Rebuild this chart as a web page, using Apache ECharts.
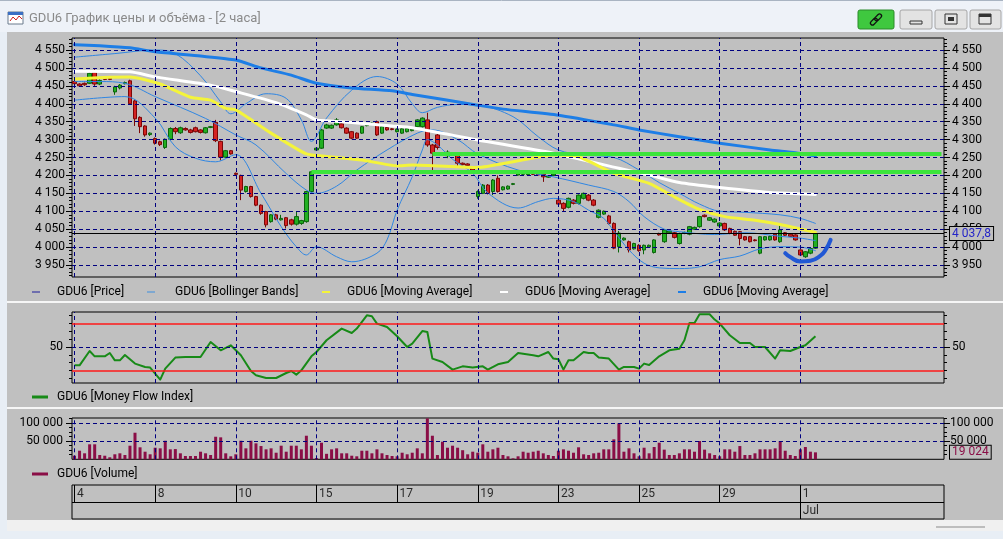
<!DOCTYPE html>
<html><head><meta charset="utf-8">
<script src="https://cdn.jsdelivr.net/npm/echarts@6/dist/echarts.min.js"></script>
<style>html,body{margin:0;padding:0;background:#e8eef5;overflow:hidden}#c{width:1003px;height:539px}</style>
</head><body><div id="c"></div><script>
// ---------- DATA ----------
const windowTitle = 'GDU6 График цены и объёма - [2 часа]';
const dayLabels = ['4','8','10','15','17','19','23','25','29','1'];
const dayStarts = [0,16,32,48,64,80,96,112,128,144];
const monthLabels = ['Jul'];
const monthStarts = [144];
const slotCount = 173;
// [open, close, low, high]
const ohlc = [
[4462,4456,4452,4465],[4455,4450,4447,4457],[4457,4453,4450,4459],[4457,4485,4455,4488],
[4487,4455,4450,4497],[4455,4465,4452,4468],[4470,4468,4466,4472],[4471,4468,4466,4473],
[4433,4447,4425,4450],[4444,4452,4440,4455],[4456,4459,4454,4462],[4464,4400,4398,4467],
[4408,4358,4338,4412],[4362,4336,4318,4365],[4338,4313,4308,4340],[4314,4318,4310,4320],
[4303,4290,4286,4306],[4294,4286,4282,4297],[4278,4301,4274,4303],[4301,4331,4298,4334],
[4331,4322,4315,4335],[4319,4333,4316,4336],[4331,4327,4325,4334],[4327,4320,4317,4330],
[4333,4322,4320,4336],[4327,4320,4317,4329],[4319,4333,4317,4335],[4334,4336,4332,4338],
[4348,4297,4293,4355],[4295,4251,4242,4297],[4251,4269,4249,4271],[4269,4260,4258,4271],
[4206,4203,4200,4208],[4200,4159,4131,4202],[4155,4169,4152,4171],[4169,4141,4138,4171],
[4141,4117,4114,4143],[4117,4094,4090,4119],[4099,4062,4055,4101],[4071,4090,4068,4092],
[4090,4078,4075,4093],[4076,4080,4074,4090],[4082,4060,4052,4084],[4076,4064,4060,4079],
[4064,4085,4060,4099],[4066,4074,4062,4076],[4071,4155,4068,4157],[4155,4210,4152,4212],
[4271,4276,4269,4278],[4276,4327,4274,4330],[4332,4341,4330,4344],[4332,4340,4330,4342],
[4341,4355,4339,4360],[4344,4333,4331,4347],[4332,4318,4316,4334],[4322,4304,4301,4324],
[4318,4304,4302,4320],[4318,4336,4316,4338],[4339,4341,4337,4343],[4343,4346,4341,4348],
[4350,4313,4310,4353],[4318,4336,4316,4338],[4334,4327,4325,4336],[4330,4328,4326,4332],
[4322,4329,4320,4331],[4318,4330,4316,4332],[4322,4331,4320,4333],[4325,4329,4323,4331],
[4336,4355,4334,4357],[4336,4360,4334,4362],[4355,4285,4280,4375],[4285,4262,4215,4288],
[4313,4278,4272,4316],[4258,4263,4255,4265],[4255,4265,4248,4270],[4258,4262,4255,4264],
[4257,4234,4222,4260],[4234,4230,4228,4236],[4232,4228,4226,4234],[4220,4215,4213,4222],
[4141,4155,4135,4158],[4150,4173,4148,4176],[4173,4150,4147,4176],[4155,4187,4145,4190],
[4192,4155,4152,4200],[4160,4168,4158,4170],[4162,4170,4160,4172],[4175,4177,4173,4179],
[4201,4208,4199,4210],[4203,4207,4201,4209],[4202,4208,4200,4212],[4210,4203,4201,4212],
[4206,4201,4199,4208],[4203,4196,4182,4205],[4195,4199,4193,4201],[4200,4204,4198,4206],
[4131,4120,4117,4134],[4122,4108,4100,4125],[4111,4136,4108,4138],[4131,4122,4119,4134],
[4122,4145,4119,4147],[4136,4150,4133,4152],[4145,4131,4128,4148],[4131,4117,4114,4134],
[4083,4103,4080,4105],[4092,4100,4090,4102],[4087,4066,4063,4090],[4066,3997,3994,4069],
[4001,4039,3985,4045],[4020,4025,4018,4027],[4015,3992,3985,4018],[3995,4010,3993,4012],
[4005,3990,3987,4008],[3992,4005,3980,4007],[4000,4005,3998,4007],[3985,4020,3982,4022],
[4038,4034,4032,4040],[4015,4048,4012,4050],[4040,4045,4038,4047],[4040,4027,4024,4042],
[4010,4038,4007,4040],[4038,4041,4036,4043],[4036,4057,4033,4059],[4050,4055,4048,4057],
[4057,4085,4054,4087],[4089,4085,4083,4091],[4075,4082,4073,4084],[4070,4078,4068,4080],
[4059,4067,4057,4069],[4066,4048,4045,4068],[4052,4038,4036,4054],[4044,4033,4031,4046],
[4043,4024,4005,4045],[4029,4020,4018,4031],[4029,4015,4013,4031],[4020,4018,4016,4022],
[3983,4029,3980,4031],[4020,4029,4018,4031],[4020,4030,4018,4032],[4036,4020,4018,4038],
[4015,4048,4012,4060],[4040,4033,4031,4042],[4036,4030,4028,4038],[4034,4020,4018,4036],
[3992,3978,3975,3994],[3973,3987,3970,3989],[3983,3996,3980,3998],[3997,4037.8,3995,4040]
];
const lastPrice = 4037.8;
// [barIndex, value] points
const bbUpper = [[0,4530],[8,4540],[16,4550],[20,4540],[25,4478],[29,4405],[31,4372],[34,4400],[38,4428],[42,4415],[45,4355],[47,4295],[50,4360],[55,4438],[60,4476],[64,4455],[67,4400],[69,4375],[72,4390],[76,4398],[80,4396],[87,4364],[92,4308],[96,4271],[101,4257],[107,4250],[112,4215],[116,4180],[120,4150],[124,4120],[128,4100],[133,4097],[140,4090],[144,4080],[147,4066]];
const bbMiddle = [[0,4462],[5,4462],[10,4457],[16,4420],[26,4359],[32,4313],[36,4285],[42,4205],[46,4159],[48,4150],[52,4170],[56,4215],[62,4271],[68,4318],[71,4327],[76,4300],[80,4260],[88,4215],[95,4196],[102,4173],[107,4155],[110,4127],[113,4085],[117,4050],[120,4043],[127,4035],[133,4040],[140,4030],[144,4025],[147,4018]];
const bbLower = [[0,4410],[10,4420],[16,4360],[20,4280],[24,4248],[28,4238],[32,4258],[37,4150],[41,4057],[44,4001],[46,3978],[48,4001],[52,3973],[55,3959],[60,3983],[62,4020],[64,4103],[67,4196],[69,4271],[70,4300],[72,4285],[75,4245],[79,4206],[82,4151],[88,4109],[92,4127],[95,4136],[99,4127],[102,4103],[105,4080],[107,4045],[110,3992],[113,3955],[116,3942],[120,3940],[124,3945],[128,3965],[132,3975],[136,3995],[140,4001],[144,4000],[147,3990]];
const maYellow = [[0,4469],[7,4474],[11,4475],[17,4455],[23,4418],[27,4410],[30,4387],[32,4383],[39,4318],[46,4260],[50,4253],[57,4243],[64,4227],[67,4229],[80,4222],[87,4238],[95,4257],[100,4252],[107,4206],[114,4178],[119,4140],[124,4105],[129,4085],[135,4075],[140,4063],[147,4041]];
const maWhite = [[0,4491],[11,4489],[16,4475],[27,4452],[32,4434],[40,4403],[46,4369],[48,4355],[55,4348],[63,4338],[67,4333],[80,4299],[95,4262],[108,4220],[114,4201],[120,4180],[128,4166],[138,4152],[147,4147]];
const maBlue = [[0,4565],[5,4562],[11,4556],[16,4545],[25,4533],[32,4522],[37,4500],[43,4480],[48,4457],[55,4444],[63,4436],[67,4426],[80,4396],[85,4385],[96,4368],[107,4341],[112,4327],[120,4308],[128,4290],[138,4271],[143,4263],[147,4254]];
const levelValues = [4210, 4260];
const levelStarts = [47, 71];
const annotationArc = [[141,3983],[142,3972],[144,3960],[146,3962],[148,3976],[149,3992],[150,4020]];
const mfi = [[0,26.6],[1,26.6],[3,44.9],[4,38.1],[6,38.1],[7,42.3],[8,33],[9,33],[10,39.8],[12,28.8],[14,24.5],[15,23.7],[17,8.4],[18,22.4],[20,36.5],[22,37.2],[25,37.2],[27,56.4],[29,45.8],[31,52.2],[33,39.4],[35,19.3],[36,13.9],[38,10.4],[40,10.4],[42,16.8],[43,19.3],[44,14.7],[45,20.2],[47,38.1],[48,43.6],[50,58.6],[53,73.5],[55,67.9],[56,73.5],[58,90.5],[59,89.2],[60,79.9],[62,75.5],[64,63.7],[66,50],[67,54.3],[69,70.4],[70,69.2],[71,35.2],[73,30.8],[75,21.1],[77,25.3],[79,23.7],[81,25.3],[82,21.1],[84,27.9],[86,30.8],[88,42.3],[91,39.4],[92,38.1],[94,43.6],[95,35.2],[96,34.3],[97,21.1],[98,33],[99,33],[101,43.6],[102,42.3],[103,42.3],[104,36.5],[106,35.2],[108,21.1],[109,24.5],[111,24.5],[112,22.4],[113,28.8],[114,27],[116,38.1],[118,45.8],[120,47.9],[121,58.6],[122,80.7],[123,80.7],[124,91.8],[126,91.8],[127,85],[128,79.9],[130,65],[132,55.1],[134,55.1],[135,50],[137,50],[139,35.2],[140,45.8],[142,44.9],[144,50],[145,52.2],[147,63.7]];
const mfiLevels = [20, 80];
const volume = [9800,23500,16400,41000,41000,11700,9800,5500,13700,16400,11700,37200,72700,32800,20800,13700,
31700,30000,50800,27300,28000,16400,9000,9000,9000,20800,16400,11700,61700,60100,16400,8200,
13700,50800,30000,50800,43700,36300,27300,30000,18000,37200,20800,37200,37200,27300,64500,37200,
3600,45400,15000,27300,30000,16400,16400,9800,8200,23500,23500,16400,27300,16400,11700,9000,
8200,18000,13700,18000,30000,16400,112000,64500,11700,48100,31700,37200,31700,24900,13700,20800,
18000,41000,20800,27300,31700,11700,8200,2700,8200,20800,18000,20800,23500,16400,11700,9000,
23500,27300,23500,18000,32800,13700,11700,16400,18000,27300,27300,54600,98400,20800,30000,16400,
8200,31700,16400,33600,45400,26400,11700,11700,16400,27300,27300,20800,50000,26400,16400,11700,
8200,27300,27300,20800,36300,11700,11700,16400,27300,27300,27300,30000,50000,23500,11700,9000,
27300,33600,20800,19024];
const priceTicks = [3950,4000,4050,4100,4150,4200,4250,4300,4350,4400,4450,4500,4550];
const priceMinorTicks = []; for (let v = 3920; v <= 4580; v += 10) priceMinorTicks.push(v);
const mfiTicks = [50];
const mfiMinorTicks = [10,20,30,40,60,70,80,90];
const volTicks = [50000,100000];
const volMinorTicks = [12500,25000,37500,62500,75000,87500,112500];
const legendPrice = ['GDU6 [Price]','GDU6 [Bollinger Bands]','GDU6 [Moving Average]','GDU6 [Moving Average]','GDU6 [Moving Average]'];
const legendMfi = 'GDU6 [Money Flow Index]';
const legendVol = 'GDU6 [Volume]';

// ---------- LAYOUT / STYLE ----------
const FONT = "Roboto, 'Noto Sans', 'Open Sans', sans-serif";
const categories = Array.from({length: slotCount}, (_, i) => String(i));
const fmt = v => String(v).replace(/\B(?=(\d{3})+(?!\d))/g, ' ').replace('.', ',');
const GRID_DASH = {type:[4,3], color:'#000080', width:1};
const PL = 72, PW = 872;

function yAx(gi, pos, min, max, ticks, len, labels, margin) {
  return {type:'value', gridIndex:gi, position:pos, min:min, max:max,
    axisLine:{show:false}, splitLine:{show:false},
    axisTick:{show:true, customValues:ticks, length:len, lineStyle:{color:'#000', width:1}},
    axisLabel:labels ? {show:true, customValues:labels, formatter:fmt, color:'#000', fontSize:12, fontFamily:FONT, margin:margin}
                     : {show:false}};
}
const PMIN = 3916.5, PMAX = 4583.5, MMIN = 4.04, MMAX = 94.68, VMIN = 0, VMAX = 113000;
const yAxes = [
  yAx(0,'left',PMIN,PMAX,priceMinorTicks,3), yAx(0,'left',PMIN,PMAX,priceTicks,6,priceTicks,7),
  yAx(0,'right',PMIN,PMAX,priceMinorTicks,3), yAx(0,'right',PMIN,PMAX,priceTicks,6,priceTicks,8),
  yAx(1,'left',MMIN,MMAX,mfiMinorTicks,3), yAx(1,'left',MMIN,MMAX,mfiTicks,6,mfiTicks,9),
  yAx(1,'right',MMIN,MMAX,mfiMinorTicks,3), yAx(1,'right',MMIN,MMAX,mfiTicks,6,mfiTicks,8),
  yAx(2,'left',VMIN,VMAX,volMinorTicks,3), yAx(2,'left',VMIN,VMAX,volTicks,6,volTicks,9),
  yAx(2,'right',VMIN,VMAX,volMinorTicks,3), yAx(2,'right',VMIN,VMAX,volTicks,6,volTicks,6),
  {type:'value', gridIndex:3, min:0, max:2, show:false}
];
const xAxes = [0,1,2,3].map(g => ({type:'category', gridIndex:g, data:categories, show:false, boundaryGap:true}));
const vLines = dayStarts.map(i => ({xAxis:i}));

function gridLinesSeries(xi, yi, hVals) {
  return {type:'line', xAxisIndex:xi, yAxisIndex:yi, data:[], z:1, silent:true,
    markLine:{silent:true, symbol:'none', animation:false, label:{show:false}, lineStyle:GRID_DASH,
      data: vLines.concat(hVals.map(v => ({yAxis:v})))}};
}
function lineS(data, color, width, z, smooth) {
  return {type:'line', xAxisIndex:0, yAxisIndex:0, data:data, showSymbol:false, symbol:'none', smooth:smooth, z:z,
    silent:true, lineStyle:{color:color, width:width, cap:'round', join:'round'}};
}

const series = [
  gridLinesSeries(0,0,priceTicks),
  {type:'candlestick', xAxisIndex:0, yAxisIndex:0, data:ohlc, barWidth:4, z:2, silent:true,
    itemStyle:{color:'#22b022', color0:'#d42222', borderColor:'#0b650b', borderColor0:'#7c0606', borderWidth:1}},
  {type:'line', xAxisIndex:0, yAxisIndex:0, data:[], z:2, silent:true,
    markLine:{silent:true, symbol:'none', animation:false,
      lineStyle:{type:'solid', color:'#000', width:1},
      label:{show:true, position:'end', distance:6, formatter:fmt(lastPrice), color:'#2424c8', fontSize:12, fontFamily:FONT,
        backgroundColor:'#c0c0c0', borderColor:'#000', borderWidth:1, padding:[1,2,0,2]},
      data:[{yAxis:lastPrice}]}},
  lineS(bbUpper,'#2f86e3',1,3,0.35),
  lineS(bbMiddle,'#2f86e3',1,3,0.35),
  lineS(bbLower,'#2f86e3',1,3,0.35),
  lineS(maWhite,'#ffffff',3,4,0.2),
  lineS(maYellow,'#f4f43a',3,4,0.2),
  lineS(maBlue,'#1e7ee6',3,4,0.2),
  {type:'line', xAxisIndex:0, yAxisIndex:0, data:[], z:5, silent:true,
    markLine:{silent:true, symbol:'none', animation:false, label:{show:false},
      lineStyle:{type:'solid', color:'#3ce43c', width:4},
      data: levelValues.map((v,k) => [{coord:[levelStarts[k], v]}, {coord:[slotCount-1, v]}])}},
  lineS(annotationArc,'#2158d4',4,6,true),
  // MFI
  gridLinesSeries(1,4,[50]),
  {type:'line', xAxisIndex:1, yAxisIndex:4, data:[], z:2, silent:true,
    markLine:{silent:true, symbol:'none', animation:false, label:{show:false},
      lineStyle:{type:'solid', color:'#ff1a1a', width:1.6},
      data: mfiLevels.map(v => ({yAxis:v}))}},
  {type:'line', xAxisIndex:1, yAxisIndex:4, data:mfi, showSymbol:false, symbol:'none', z:3, silent:true,
    lineStyle:{color:'#178a17', width:2, join:'round'}},
  // Volume
  gridLinesSeries(2,8,volTicks),
  {type:'bar', xAxisIndex:2, yAxisIndex:8, data:volume, barWidth:3, z:2, silent:true, itemStyle:{color:'#8a0e46'},
    markLine:{silent:true, symbol:'none', animation:false, lineStyle:{color:'rgba(0,0,0,0)', width:0},
      label:{show:true, position:'end', distance:6, formatter:fmt(volume[volume.length-1]), color:'#8a0e46', fontSize:12, fontFamily:FONT,
        backgroundColor:'#c0c0c0', borderColor:'#000', borderWidth:1, padding:[1,2,0,2]},
      data:[{yAxis:volume[volume.length-1]}]}},
  // Date strip
  {type:'line', xAxisIndex:3, yAxisIndex:12, data:[], z:2, silent:true,
    markLine:{silent:true, symbol:'none', animation:false, label:{show:false},
      lineStyle:{type:'solid', color:'#000', width:1},
      data: [{yAxis:1}]
        .concat(dayStarts.filter(i => monthStarts.indexOf(i) < 0).map(i => [{coord:[i,1]},{coord:[i,2]}]))
        .concat(monthStarts.map(i => [{coord:[i,0]},{coord:[i,2]}]))}},
  {type:'scatter', xAxisIndex:3, yAxisIndex:12, symbolSize:1, z:3, silent:true, itemStyle:{color:'rgba(0,0,0,0)'},
    label:{show:true, position:'right', distance:2, color:'#000', fontSize:12, fontFamily:FONT, formatter: p => p.data.t},
    data: dayLabels.map((t,k) => ({value:[dayStarts[k],1.5], t:t}))
      .concat(monthLabels.map((t,k) => ({value:[monthStarts[k],0.5], t:t})))}
];

// ---------- GRAPHIC (window chrome + legends) ----------
const graphic = [
  {type:'rect', shape:{x:0,y:0,width:1003,height:539}, style:{fill:'#e8eef5'}, z:-20, silent:true},
  {type:'rect', shape:{x:0,y:0,width:1003,height:32}, style:{fill:'#eef2f8'}, z:-19, silent:true},
  {type:'line', shape:{x1:0,y1:0.5,x2:1003,y2:0.5}, style:{stroke:'#a9b4c2'}, z:-18, silent:true},
  {type:'rect', shape:{x:7,y:32,width:996,height:488}, style:{fill:'#c0c0c0'}, z:-19, silent:true},
  {type:'rect', shape:{x:7,y:520,width:996,height:11}, style:{fill:'#f0f0f0'}, z:-19, silent:true},
  {type:'line', shape:{x1:936,y1:527,x2:985,y2:527}, style:{stroke:'#8a8a8a', lineWidth:1}, silent:true},
  {type:'line', shape:{x1:7,y1:302,x2:1003,y2:302}, style:{stroke:'#f6f6f6', lineWidth:2}, silent:true},
  {type:'line', shape:{x1:7,y1:408,x2:1003,y2:408}, style:{stroke:'#f6f6f6', lineWidth:2}, silent:true},
  // title icon
  {type:'rect', shape:{x:8,y:12,width:15,height:12}, style:{fill:'#ffffff', stroke:'#6b7a8c', lineWidth:1}, silent:true},
  {type:'rect', shape:{x:8,y:12,width:15,height:3}, style:{fill:'#3b6fc4'}, silent:true},
  {type:'polyline', shape:{points:[[10,21],[13,17],[16,20],[19,16],[22,19]]}, style:{stroke:'#d02020', lineWidth:1, fill:null}, silent:true},
  {type:'text', x:29, y:19, style:{text:windowTitle, fill:'#8a8a8a', font:'13px '+FONT, textVerticalAlign:'middle'}, silent:true},
  // buttons
  {type:'rect', shape:{x:858,y:10,width:36,height:19,r:2}, style:{fill:'#3fc83f', stroke:'#2b8a2b'}, silent:true},
  {type:'group', x:876, y:19.5, rotation:Math.PI/4, silent:true, children:[
    {type:'rect', shape:{x:-7,y:-2,width:8,height:4,r:2}, style:{fill:null, stroke:'#111', lineWidth:1.3}},
    {type:'rect', shape:{x:-1,y:-2,width:8,height:4,r:2}, style:{fill:null, stroke:'#111', lineWidth:1.3}}
  ]},
  {type:'rect', shape:{x:900,y:10,width:32,height:19,r:2}, style:{fill:'#e3e3e3', stroke:'#a6a6a6'}, silent:true},
  {type:'rect', shape:{x:910,y:21,width:12,height:3}, style:{fill:null, stroke:'#333'}, silent:true},
  {type:'rect', shape:{x:935,y:10,width:32,height:19,r:2}, style:{fill:'#e3e3e3', stroke:'#a6a6a6'}, silent:true},
  {type:'rect', shape:{x:945,y:14,width:12,height:10}, style:{fill:null, stroke:'#333'}, silent:true},
  {type:'rect', shape:{x:948,y:17,width:6,height:4}, style:{fill:'#333'}, silent:true},
  {type:'rect', shape:{x:970,y:10,width:31,height:19,r:2}, style:{fill:'#e3e3e3', stroke:'#a6a6a6'}, silent:true},
  {type:'rect', shape:{x:979,y:14,width:12,height:10}, style:{fill:null, stroke:'#333'}, silent:true},
  {type:'rect', shape:{x:979,y:14,width:12,height:3}, style:{fill:'#333'}, silent:true}
];
const legPriceIconX = [32,147,322,500,678];
const legPriceTextX = [57,175,347,525,703];
const legPriceColors = ['#1c1c9c','#3d8fe0','#f4f43a','#ffffff','#1e7ee6'];
const legPriceW = [1,1,2,2,2];
legendPrice.forEach((t,k) => {
  graphic.push({type:'line', shape:{x1:legPriceIconX[k], y1:292, x2:legPriceIconX[k]+8, y2:292}, style:{stroke:legPriceColors[k], lineWidth:legPriceW[k]}, silent:true});
  graphic.push({type:'text', x:legPriceTextX[k], y:292, style:{text:t, fill:'#000', font:'12px '+FONT, textVerticalAlign:'middle'}, silent:true});
});
graphic.push({type:'line', shape:{x1:32,y1:397,x2:48,y2:397}, style:{stroke:'#178a17', lineWidth:3}, silent:true});
graphic.push({type:'text', x:57, y:397, style:{text:legendMfi, fill:'#000', font:'12px '+FONT, textVerticalAlign:'middle'}, silent:true});
graphic.push({type:'line', shape:{x1:32,y1:474,x2:48,y2:474}, style:{stroke:'#8a0e46', lineWidth:3}, silent:true});
graphic.push({type:'text', x:57, y:474, style:{text:legendVol, fill:'#000', font:'12px '+FONT, textVerticalAlign:'middle'}, silent:true});

const gridBase = {show:true, borderColor:'#000', borderWidth:1, backgroundColor:'rgba(0,0,0,0)', containLabel:false};
const option = {
  animation:false,
  textStyle:{fontFamily:FONT},
  grid:[
    Object.assign({left:PL, top:38, width:PW, height:239}, gridBase),
    Object.assign({left:PL, top:312, width:PW, height:71}, gridBase),
    Object.assign({left:PL, top:418, width:PW, height:41.3}, gridBase),
    Object.assign({left:PL, top:485, width:PW, height:34}, gridBase)
  ],
  xAxis:xAxes, yAxis:yAxes, series:series, graphic:{elements:graphic}
};
const chart = echarts.init(document.getElementById('c'), null, {renderer:'canvas', width:1003, height:539});
chart.setOption(option);
</script></body></html>
